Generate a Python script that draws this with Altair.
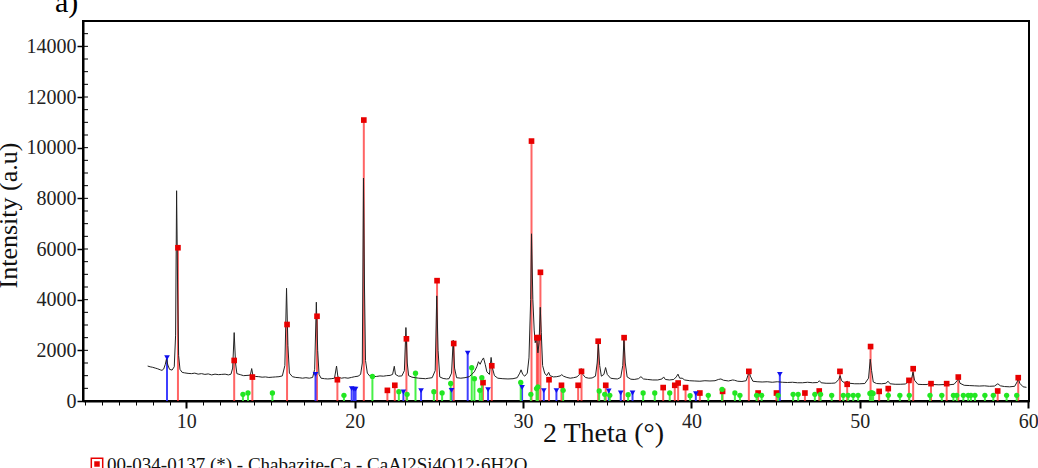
import altair as alt
import pandas as pd

# ---- measured pattern (2 theta, intensity) ----
SPEC_X = [7.70, 7.85, 8.00, 8.15, 8.30, 8.45, 8.55, 8.65, 8.75, 8.82, 8.90, 9.00, 9.15, 9.28, 9.36, 9.42, 9.48, 9.54, 9.62, 9.75,
          9.90, 10.10, 10.30, 10.50, 10.70, 10.90, 11.10, 11.30, 11.50, 11.70, 11.90, 12.10, 12.30, 12.50, 12.65, 12.75, 12.84, 12.92, 13.00, 13.20,
          13.40, 13.60, 13.80, 13.88, 13.95, 14.10, 14.30, 14.50, 14.70, 14.90, 15.10, 15.30, 15.50, 15.70, 15.85, 15.95, 16.03, 16.12, 16.30, 16.50,
          16.70, 16.90, 17.10, 17.30, 17.50, 17.62, 17.72, 17.80, 17.88, 18.00, 18.20, 18.40, 18.60, 18.80, 18.92, 19.00, 19.20, 19.40, 19.60, 19.80,
          20.00, 20.20, 20.35, 20.45, 20.52, 20.58, 20.64, 20.75, 20.90, 21.10, 21.30, 21.50, 21.70, 21.90, 22.10, 22.25, 22.35, 22.42, 22.60, 22.80,
          22.95, 23.04, 23.12, 23.20, 23.40, 23.60, 23.80, 24.00, 24.20, 24.40, 24.60, 24.78, 24.87, 24.95, 25.05, 25.25, 25.45, 25.60, 25.75, 25.85,
          25.93, 26.05, 26.30, 26.55, 26.80, 26.95, 27.10, 27.25, 27.35, 27.45, 27.55, 27.65, 27.75, 27.85, 28.00, 28.10, 28.18, 28.30, 28.50, 28.80,
          29.10, 29.40, 29.65, 29.80, 29.88, 29.98, 30.10, 30.25, 30.35, 30.45, 30.50, 30.58, 30.66, 30.72, 30.80, 30.88, 30.95, 31.02, 31.08, 31.16,
          31.28, 31.40, 31.52, 31.60, 31.80, 32.00, 32.20, 32.30, 32.40, 32.60, 32.80, 33.00, 33.20, 33.35, 33.45, 33.55, 33.70, 33.90, 34.10, 34.30,
          34.40, 34.47, 34.55, 34.65, 34.80, 34.90, 35.00, 35.20, 35.40, 35.60, 35.80, 35.92, 35.99, 36.07, 36.18, 36.40, 36.60, 36.85, 37.00, 37.15,
          37.40, 37.70, 38.00, 38.25, 38.35, 38.45, 38.70, 38.95, 39.10, 39.20, 39.30, 39.45, 39.60, 39.90, 40.20, 40.50, 40.80, 41.10, 41.40, 41.60,
          41.75, 41.90, 42.20, 42.45, 42.55, 42.75, 43.00, 43.25, 43.35, 43.42, 43.50, 43.65, 43.90, 44.20, 44.50, 44.80, 45.10, 45.40, 45.70, 46.00,
          46.30, 46.60, 46.90, 47.20, 47.50, 47.60, 47.70, 48.00, 48.30, 48.55, 48.75, 48.83, 48.92, 49.10, 49.25, 49.40, 49.70, 50.00, 50.30, 50.52,
          50.62, 50.70, 50.80, 51.00, 51.30, 51.55, 51.68, 51.80, 52.10, 52.40, 52.70, 52.90, 53.00, 53.10, 53.16, 53.25, 53.45, 53.70, 54.00, 54.20,
          54.35, 54.70, 55.00, 55.16, 55.30, 55.60, 55.78, 55.86, 55.95, 56.20, 56.50, 56.80, 57.10, 57.40, 57.70, 58.00, 58.20, 58.35, 58.60, 58.90,
          59.20, 59.35, 59.42, 59.50, 59.70, 59.90]
SPEC_Y = [1380, 1350, 1330, 1300, 1270, 1230, 1210, 1260, 1450, 1670, 1420, 1250, 1220, 1350, 2600, 8300, 4500, 1800, 1250, 1130,
          1110, 1090, 1080, 1100, 1060, 1080, 1050, 1070, 1030, 1060, 1040, 1050, 1060, 1030, 1060, 1300, 2700, 1500, 1080, 1040,
          1000, 1010, 1020, 1280, 1020, 970, 960, 940, 950, 930, 940, 950, 960, 990, 1400, 4450, 2200, 1100, 960, 930,
          920, 900, 920, 900, 930, 1250, 3900, 2000, 1050, 900, 880, 870, 880, 900, 1380, 950, 900, 920, 900, 930,
          960, 980, 1050, 1500, 8800, 4500, 1600, 1100, 980, 960, 970, 990, 980, 1000, 1010, 1050, 1370, 1050, 980, 990,
          1200, 2900, 1500, 1000, 940, 920, 900, 890, 880, 900, 920, 1200, 4150, 2000, 950, 890, 870, 880, 1100, 2400,
          1300, 920, 900, 920, 960, 1050, 1150, 1350, 1550, 1450, 1600, 1700, 1450, 1150, 1050, 1720, 1300, 1000, 900, 880,
          870, 880, 920, 1100, 1230, 1050, 980, 1100, 1700, 4000, 6600, 4000, 2800, 2300, 2500, 1900, 2300, 3700, 2700, 1400,
          1100, 1000, 1130, 1000, 950, 960, 990, 1040, 980, 930, 900, 920, 950, 1050, 1280, 1050, 930, 900, 910, 980,
          1500, 2240, 1400, 980, 1050, 1320, 1050, 900, 880, 870, 930, 1400, 2450, 1500, 950, 860, 850, 880, 960, 870,
          850, 830, 830, 870, 950, 850, 830, 850, 950, 1060, 900, 900, 830, 800, 790, 780, 800, 790, 800, 850,
          870, 820, 790, 830, 820, 780, 770, 800, 1000, 1190, 980, 780, 760, 750, 760, 740, 760, 740, 730, 740,
          720, 720, 740, 720, 730, 800, 720, 700, 700, 710, 850, 1000, 800, 710, 780, 700, 680, 680, 690, 900,
          1650, 1200, 750, 690, 680, 700, 780, 680, 660, 660, 670, 760, 720, 950, 1140, 820, 660, 650, 650, 730,
          650, 640, 650, 760, 640, 660, 800, 900, 700, 620, 610, 600, 590, 600, 580, 590, 680, 600, 570, 560,
          580, 760, 900, 700, 560, 540]

# ---- reference patterns ----
RED_X = [9.50, 12.84, 13.92, 15.98, 17.76, 18.97, 20.54, 21.94, 22.38, 23.07, 24.89, 25.88, 27.62, 28.14, 30.50, 30.82, 30.90, 31.03,
         31.54, 32.28, 33.27, 33.47, 34.46, 34.91, 36.00, 38.32, 39.01, 39.21, 39.65, 40.50, 41.85, 43.41, 43.96, 45.05, 46.74, 47.59,
         48.82, 49.25, 50.64, 51.15, 51.69, 52.92, 53.17, 54.23, 55.16, 55.85, 58.19, 59.41]
RED_Y = [6050, 1600, 945, 3020, 3345, 840, 11090, 420, 620, 2455, 4750, 2270, 725, 1390, 10260, 2500, 2500, 5080,
         840, 620, 620, 1170, 2360, 620, 2500, 530, 620, 710, 530, 315, 380, 1170, 315, 315, 315, 395,
         1170, 660, 2150, 380, 490, 815, 1275, 685, 685, 945, 395, 920]

BLUE_X = [8.85, 17.67, 19.82, 19.95, 20.05, 22.89, 23.94, 25.75, 26.71, 27.92, 29.94, 31.23, 31.98, 35.09, 35.80, 36.50, 40.26, 45.25]
BLUE_Y = [1710, 1050, 490, 470, 470, 355, 410, 420, 1890, 450, 530, 410, 410, 395, 315, 315, 290, 1050]

GREEN_X = [13.36, 13.66, 15.11, 19.36, 21.05, 22.62, 23.11, 23.61, 24.70, 25.19, 25.70, 26.95, 27.11, 27.43, 27.55, 29.86, 30.46,
           30.80, 30.88, 32.38, 34.52, 34.85, 35.15, 36.24, 37.13, 37.82, 38.71, 39.92, 41.00, 41.82, 42.58, 42.88, 43.87, 44.17,
           45.15, 46.04, 46.34, 47.33, 47.67, 48.33, 49.02, 49.31, 49.61, 49.90, 50.60, 50.70, 50.79, 51.69, 52.38, 52.94, 54.17,
           54.87, 55.56, 55.76, 56.15, 56.44, 56.60, 56.84, 57.43, 57.93, 58.72, 59.32]
GREEN_Y = [265, 315, 315, 225, 970, 370, 265, 1100, 370, 320, 690, 1315, 880, 420, 920, 735, 265,
           490, 560, 420, 395, 265, 225, 250, 315, 315, 315, 210, 225, 460, 315, 225, 225, 225,
           225, 265, 265, 265, 265, 225, 225, 225, 225, 225, 300, 330, 300, 225, 225, 225, 225,
           225, 225, 225, 225, 225, 225, 225, 225, 225, 225, 225]

X_TICKS = list(range(4, 61))
Y_TICKS = [0, 2000, 4000, 6000, 8000, 10000, 12000, 14000]
Y_MINOR = list(range(500, 15000, 500))
LEGEND_TEXT = "00-034-0137 (*) - Chabazite-Ca - CaAl2Si4O12·6H2O"
PANEL_LABEL = "a)"

FONT = "Liberation Serif"

spec = pd.DataFrame({"t": SPEC_X, "i": SPEC_Y})
red = pd.DataFrame({"t": RED_X, "i": RED_Y})
blue = pd.DataFrame({"t": BLUE_X, "i": BLUE_Y})
green = pd.DataFrame({"t": GREEN_X, "i": GREEN_Y})
yminor = pd.DataFrame({"i": Y_MINOR})

xscale = alt.Scale(domain=[3.86, 60.05], nice=False, zero=False)
yscale = alt.Scale(domain=[0, 15000], nice=False)

xaxis = alt.Axis(
    values=X_TICKS,
    labelExpr="datum.value % 10 === 0 ? datum.label : ''",
    labelOverlap=False, labelFlush=False,
    tickSize={"condition": {"test": "datum.value % 10 === 0", "value": 7}, "value": 4},
    tickWidth={"condition": {"test": "datum.value % 10 === 0", "value": 2}, "value": 1},
    labelPadding=3, labelFontSize=20, labelFont=FONT, labelColor="#222",
    title="2 Theta (°)", titleFont=FONT, titleFontSize=28, titleFontWeight="normal",
    titleColor="#111", titleX=520, titleY=40, titleAnchor="start", titleAlign="center",
    titleBaseline="alphabetic",
    grid=False, domainColor="black", domainWidth=2, tickColor="black",
)
yaxis = alt.Axis(
    values=Y_TICKS, format="d", tickSize=6, tickWidth=1.5, labelPadding=1,
    labelFontSize=20, labelFont=FONT, labelColor="#222",
    title="Intensity (a.u)", titleFont=FONT, titleFontSize=26, titleFontWeight="normal",
    titleColor="#111", titleX=-67, titleY=194, titleAngle=270, titleAlign="center",
    titleBaseline="alphabetic",
    grid=False, domainColor="black", domainWidth=2, tickColor="black",
)


def X():
    return alt.X("t:Q", scale=xscale, axis=xaxis)


def Y():
    return alt.Y("i:Q", scale=yscale, axis=yaxis)


def sticks(df, color, opacity):
    return alt.Chart(df).mark_rule(color=color, strokeWidth=2, opacity=opacity).encode(
        x=X(), y=Y(), y2=alt.datum(0)
    )


red_sticks = sticks(red, "#ff3030", 0.75)
blue_sticks = sticks(blue, "#2a2aff", 0.9)
green_sticks = sticks(green, "#33ee33", 0.9)

line = alt.Chart(spec).mark_line(color="#222222", strokeWidth=1).encode(x=X(), y=Y())

red_pts = alt.Chart(red).mark_point(shape="square", filled=True, size=32, color="#e80000", opacity=1).encode(x=X(), y=Y())
blue_pts = alt.Chart(blue).mark_point(shape="triangle-down", filled=True, size=32, color="#1010ee", opacity=1).encode(x=X(), y=Y())
green_pts = alt.Chart(green).mark_point(shape="circle", filled=True, size=28, color="#22e622", opacity=1).encode(x=X(), y=Y())

minor_y = alt.Chart(yminor).mark_rule(color="black", strokeWidth=1).encode(
    y=Y(), x=alt.value(0), x2=alt.value(5)
)

panel = alt.Chart(pd.DataFrame({"s": [PANEL_LABEL]})).mark_text(
    font=FONT, fontSize=30, align="left", baseline="alphabetic", color="black"
).encode(text="s:N", x=alt.value(-28), y=alt.value(-9))

leg_box = alt.Chart(pd.DataFrame({"s": [LEGEND_TEXT]})).mark_point(
    shape="square", filled=False, size=130, color="#e80000", strokeWidth=1.5, opacity=1
).encode(x=alt.value(14), y=alt.value(443))
leg_fill = alt.Chart(pd.DataFrame({"s": [LEGEND_TEXT]})).mark_point(
    shape="square", filled=True, size=30, color="#e80000", opacity=1
).encode(x=alt.value(14), y=alt.value(443))
leg_text = alt.Chart(pd.DataFrame({"s": [LEGEND_TEXT]})).mark_text(
    font=FONT, fontSize=19, align="left", baseline="alphabetic", color="#111"
).encode(text="s:N", x=alt.value(24), y=alt.value(450))

chart = alt.layer(
    red_sticks, blue_sticks, green_sticks, line, red_pts, blue_pts, green_pts,
    minor_y, panel, leg_box, leg_fill, leg_text
).properties(
    width=946, height=380,
    autosize=alt.AutoSizeParams(type="none"),
    padding={"left": 83, "top": 21, "right": 9, "bottom": 67},
    background="white",
).configure_view(stroke="black", strokeWidth=2)

chart.save("out.html", embed_options={"renderer": "svg", "actions": False})
